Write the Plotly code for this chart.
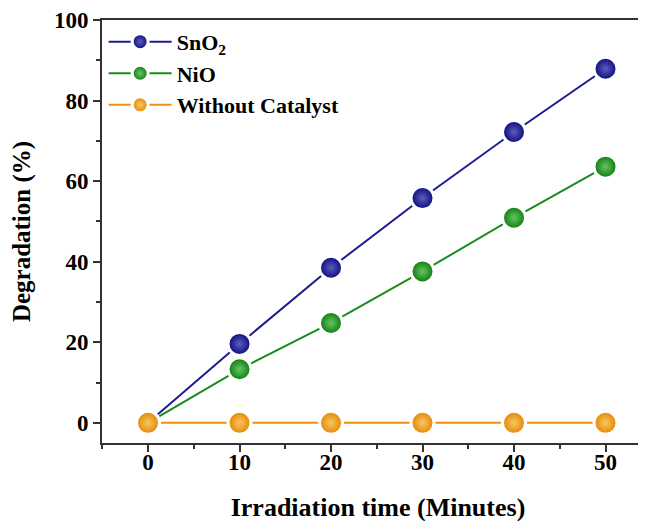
import plotly.graph_objects as go

time_min = [0, 10, 20, 30, 40, 50]
sno2 = [0, 19.6, 38.5, 55.8, 72.2, 87.9]
nio = [0, 13.3, 24.8, 37.6, 50.9, 63.6]
without_cat = [0, 0, 0, 0, 0, 0]

series = [
    ("SnO<sub>2</sub>", sno2, "#1c1c90", "#08087a", "#5c5cc0"),
    ("NiO", nio, "#1a8c1a", "#087a08", "#66c466"),
    ("Without Catalyst", without_cat, "#f0900a", "#e48400", "#f6c860"),
]

font_family = "Liberation Serif"
fig = go.Figure()
for name, vals, lc, dark, light in series:
    fig.add_trace(go.Scatter(
        x=time_min, y=vals, name="<b>" + name + "</b>", mode="lines+markers",
        line=dict(color=lc, width=2),
        marker=dict(size=23, color=dark,
                    gradient=dict(type="radial", color=light),
                    line=dict(color="white", width=3)),
    ))

tickfont = dict(family=font_family, size=23, color="black", weight="bold")
axis_common = dict(
    showline=True, linecolor="#333333", linewidth=2,
    ticks="outside", ticklen=7, tickwidth=2, tickcolor="#333333",
    showgrid=False, zeroline=False,
    tickfont=tickfont,
)
fig.update_xaxes(
    range=[-5.03, 55.3], tickvals=[0, 10, 20, 30, 40, 50], mirror=True,
    automargin=True, ticklabelstandoff=-10,
    minor=dict(dtick=5, ticks="outside", ticklen=4, tickwidth=2, tickcolor="#333333"),
    title=dict(text="<b>Irradiation time (Minutes)</b>", standoff=24,
               font=dict(family=font_family, size=26, color="black")),
    **axis_common,
)
fig.update_yaxes(
    range=[-5, 100], tickvals=[0, 20, 40, 60, 80, 100], automargin=False,
    minor=dict(dtick=10, ticks="outside", ticklen=4, tickwidth=2, tickcolor="#333333"),
    title=dict(text="<b>Degradation (%)</b>", standoff=22,
               font=dict(family=font_family, size=25, color="black")),
    **axis_common,
)
fig.update_layout(
    width=646, height=521,
    margin=dict(l=94, r=0, t=12, b=86),
    plot_bgcolor="white", paper_bgcolor="white",
    font=dict(family=font_family, color="black"),
    legend=dict(x=0.003, y=0.998, xanchor="left", yanchor="top",
                bgcolor="rgba(0,0,0,0)", itemwidth=63,
                font=dict(family=font_family, size=22, color="black"),
                tracegroupgap=0),
)
fig.write_html("out.html")
